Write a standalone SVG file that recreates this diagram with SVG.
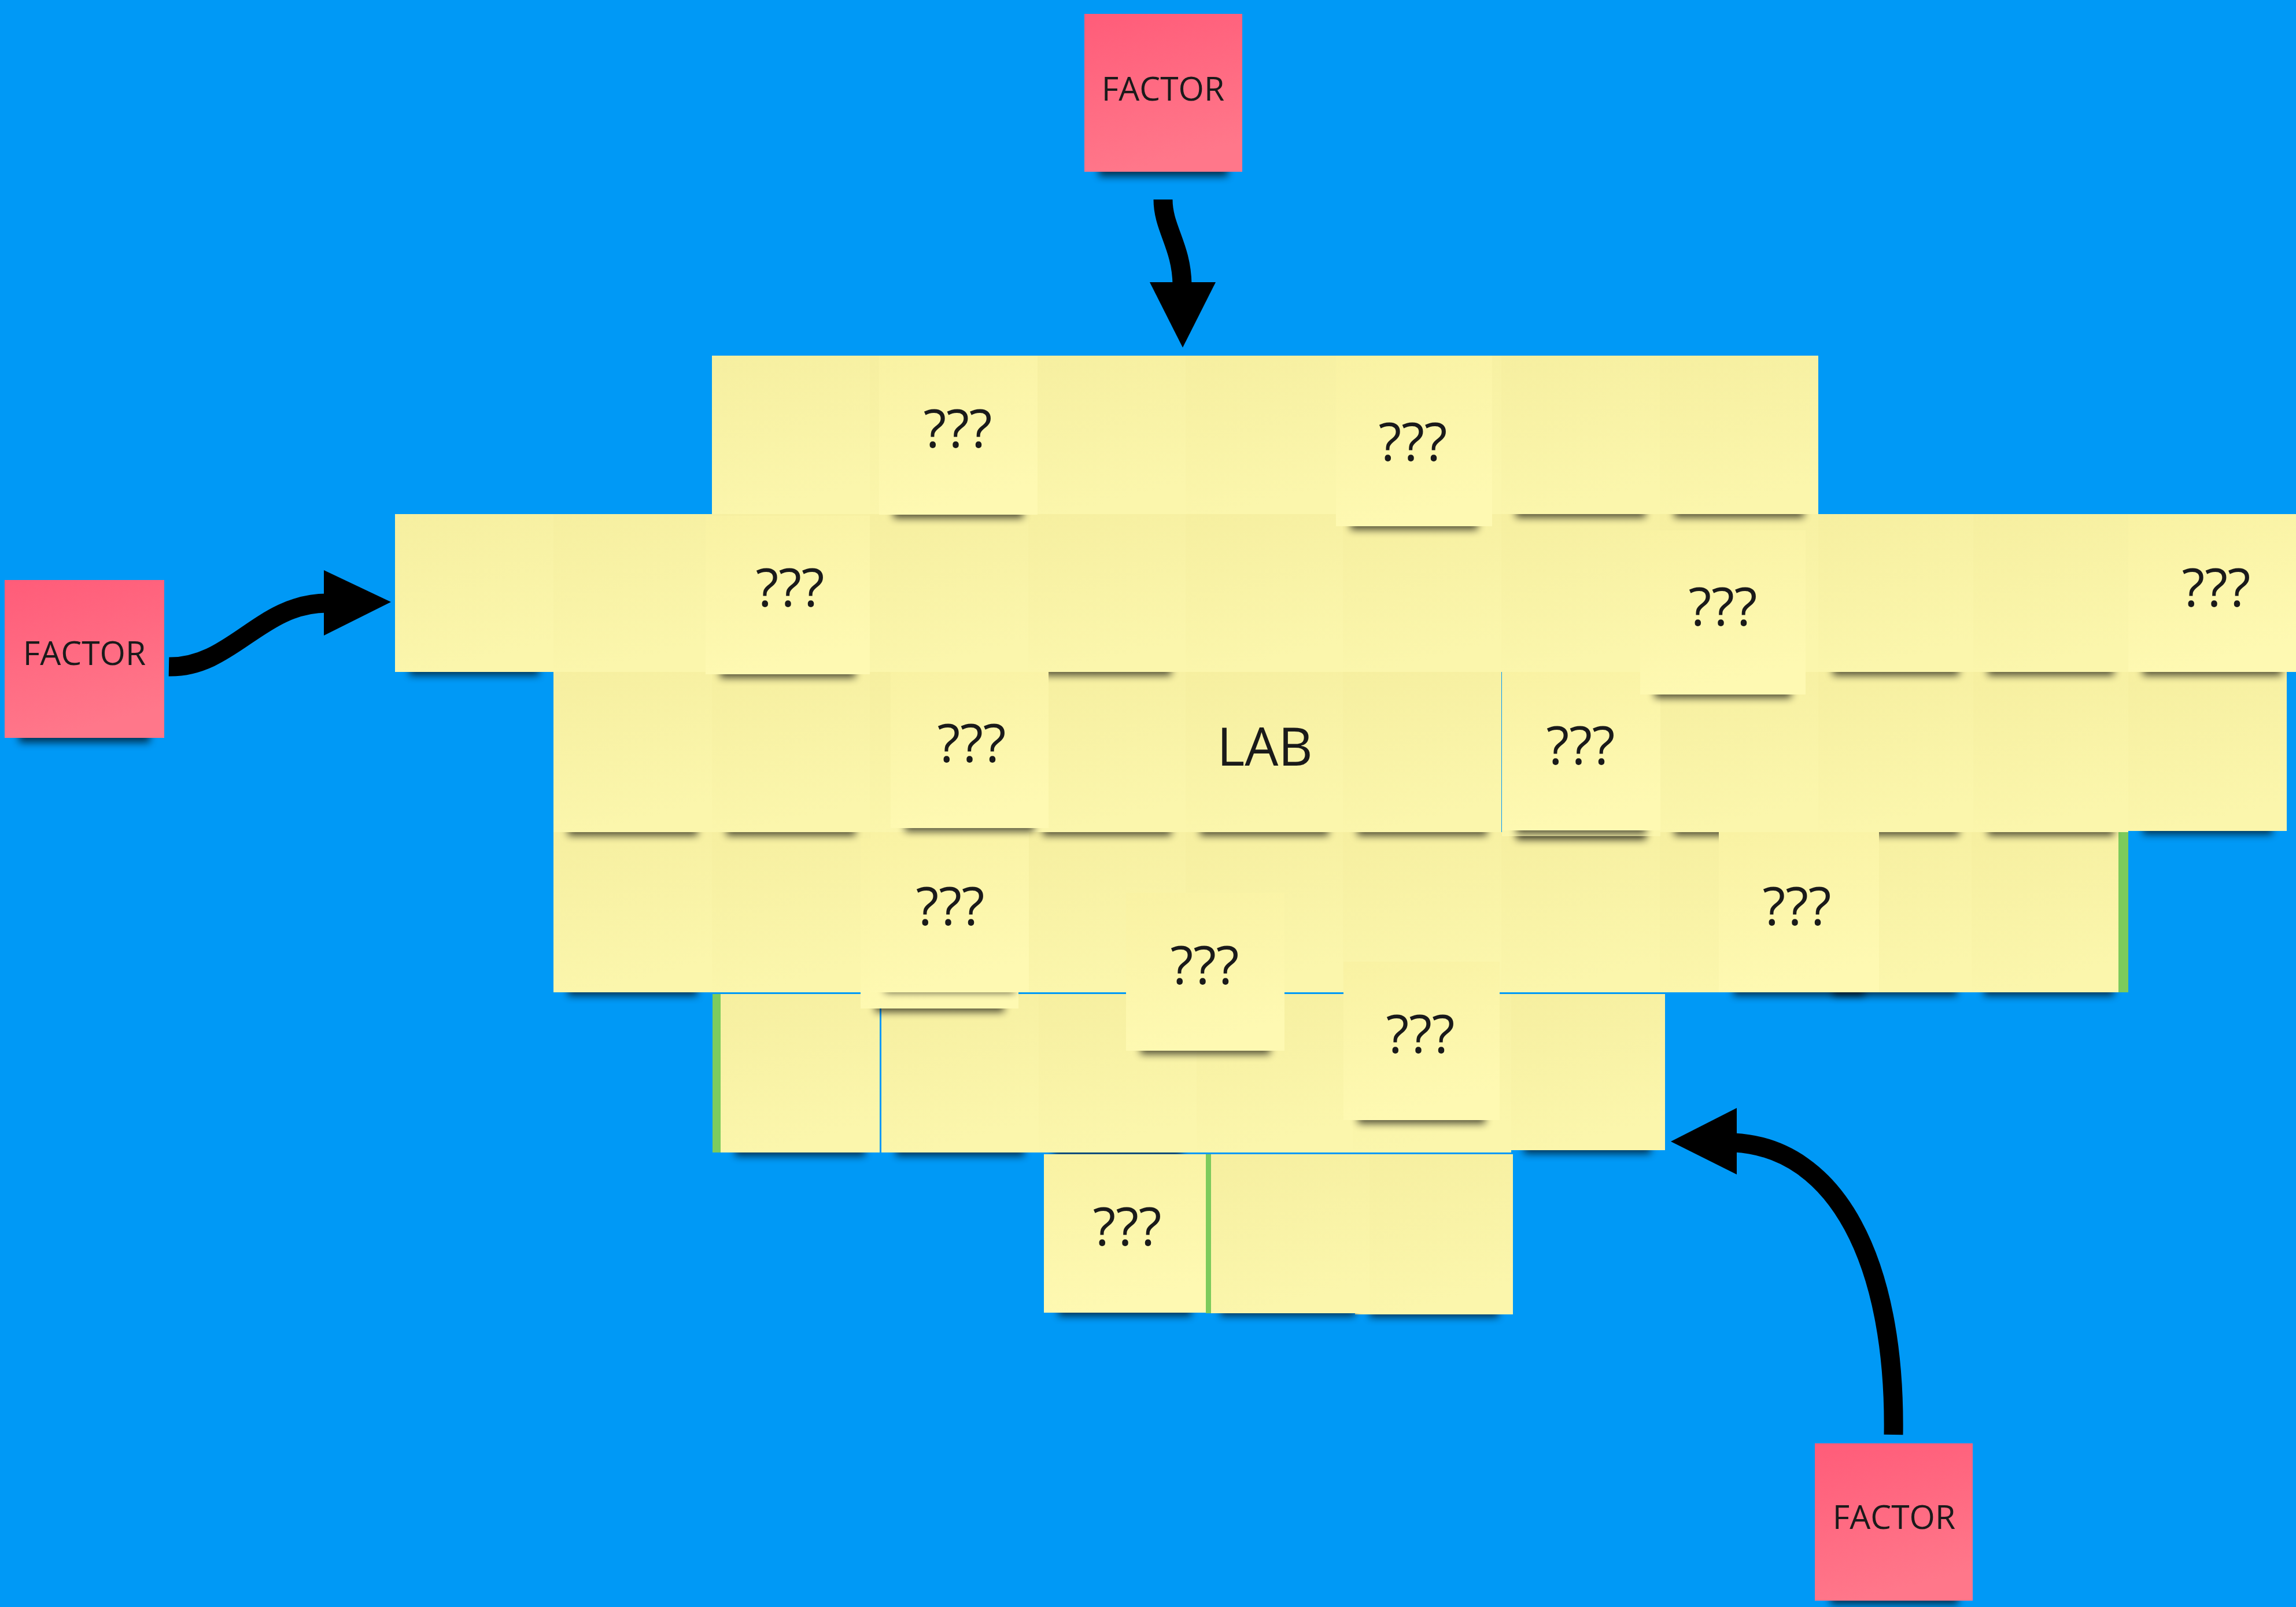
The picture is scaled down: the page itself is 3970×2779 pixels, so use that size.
<svg xmlns="http://www.w3.org/2000/svg" width="3970" height="2779" viewBox="0 0 3970 2779">
<defs>
<linearGradient id="gy" x1="0" y1="0" x2="0.25" y2="1"><stop offset="0" stop-color="#F6EFA0"/><stop offset="1" stop-color="#FBF6AC"/></linearGradient>
<linearGradient id="gq" x1="0" y1="0" x2="0.25" y2="1"><stop offset="0" stop-color="#F9F2A3"/><stop offset="1" stop-color="#FEF9B2"/></linearGradient>
<linearGradient id="gp" x1="0" y1="0" x2="0.25" y2="1"><stop offset="0" stop-color="#FF5C79"/><stop offset="1" stop-color="#FF778A"/></linearGradient>
<filter id="blur" x="-20%" y="-300%" width="140%" height="700%"><feGaussianBlur stdDeviation="7"/></filter>
</defs>
<style>
.y{fill:url(#gy)}
.q{fill:url(#gq)}
.p{fill:url(#gp)}
.g{fill:#7CCB5C}
.sh{fill:#000;opacity:.68;filter:url(#blur)}
.t{font-family:"Open Sans","Liberation Sans",sans-serif;fill:#1a1a1a;text-anchor:middle}
.qt{font-size:92px}
.ft{font-size:57px}
.arr{fill:none;stroke:#000;stroke-width:33}
</style>
<rect width="3970" height="2779" fill="#0099F6"/>

<!-- row 5 -->
<g id="n5c"><rect class="sh" x="2368" y="2258" width="223" height="20"/><rect class="y" x="2343" y="1996" width="273" height="277"/></g>
<g id="n5b"><rect class="sh" x="2110" y="2256" width="233" height="20"/><rect class="g" x="2085" y="1996" width="275" height="275"/><rect class="y" x="2094" y="1996" width="274" height="275"/></g>

<!-- row 4 -->
<g id="n4f"><rect class="sh" x="2635" y="1975" width="219" height="20"/><rect class="y" x="2610" y="1719" width="269" height="270"/></g>
<g id="n4e"><rect class="y" x="2323" y="1719" width="290" height="274"/></g>
<g id="n4d"><rect class="y" x="2066" y="1719" width="273" height="274"/></g>
<g id="n4c"><rect class="sh" x="1821" y="1979" width="223" height="20"/><rect class="y" x="1796" y="1719" width="273" height="274"/></g>
<g id="n4b"><rect class="sh" x="1549" y="1979" width="222" height="20"/><rect class="y" x="1524" y="1719" width="272" height="274"/></g>
<g id="n4a"><rect class="sh" x="1271" y="1979" width="225" height="20"/><rect class="g" x="1232" y="1719" width="276" height="274"/><rect class="y" x="1246" y="1719" width="275" height="274"/></g>

<!-- row 3 -->
<g id="n3k"><rect class="sh" x="3430" y="1702" width="225" height="20"/><rect class="g" x="3408" y="1439" width="272" height="277"/><rect class="y" x="3403" y="1439" width="260" height="277"/></g>
<g id="n3j"><rect class="sh" x="3169" y="1702" width="215" height="20"/><rect class="y" x="3144" y="1439" width="265" height="277"/></g>
<g id="n3i"><rect class="y" x="2870" y="1439" width="274" height="277"/></g>
<g id="n3h"><rect class="y" x="2596" y="1439" width="274" height="277"/></g>
<g id="n3g"><rect class="y" x="2322" y="1439" width="274" height="277"/></g>
<g id="n3f"><rect class="y" x="2050" y="1439" width="272" height="277"/></g>
<g id="n3e"><rect class="y" x="1778" y="1439" width="272" height="277"/></g>
<g id="n3d"><rect class="y" x="1504" y="1439" width="274" height="277"/></g>
<g id="n3c"><rect class="y" x="1231" y="1439" width="273" height="277"/></g>
<g id="n3b"><rect class="sh" x="982" y="1702" width="224" height="20"/><rect class="y" x="957" y="1439" width="274" height="277"/></g>

<!-- row 2 -->
<g id="n2k"><rect class="sh" x="3705" y="1423" width="224" height="20"/><rect class="y" x="3680" y="1162" width="274" height="275"/></g>
<g id="n2j"><rect class="sh" x="3437" y="1425" width="218" height="20"/><rect class="y" x="3412" y="1162" width="268" height="277"/></g>
<g id="n2i"><rect class="sh" x="3169" y="1425" width="218" height="20"/><rect class="y" x="3144" y="1162" width="268" height="277"/></g>
<g id="n2h"><rect class="sh" x="2895" y="1425" width="224" height="20"/><rect class="y" x="2870" y="1162" width="274" height="277"/></g>
<g id="n2g"><rect class="sh" x="2622" y="1432" width="224" height="20"/><rect class="y" x="2597" y="1170" width="274" height="276"/></g>
<g id="n2f"><rect class="sh" x="2347" y="1425" width="224" height="20"/><rect class="y" x="2322" y="1162" width="274" height="277"/></g>
<g id="lab"><rect class="sh" x="2075" y="1425" width="222" height="20"/><rect class="y" x="2050" y="1162" width="272" height="277"/><text class="t" x="2187" y="1324" font-size="92">LAB</text></g>
<g id="n2d"><rect class="sh" x="1803" y="1425" width="222" height="20"/><rect class="y" x="1778" y="1162" width="272" height="277"/></g>
<g id="n2c"><rect class="y" x="1504" y="1162" width="274" height="277"/></g>
<g id="n2b"><rect class="sh" x="1256" y="1425" width="223" height="20"/><rect class="y" x="1231" y="1162" width="273" height="277"/></g>
<g id="n2a"><rect class="sh" x="982" y="1425" width="224" height="20"/><rect class="y" x="957" y="1162" width="274" height="277"/></g>

<!-- row 1 -->
<g id="n1l"><rect class="y" x="3680" y="889" width="290" height="273"/></g>
<g id="n1k"><rect class="sh" x="3437" y="1148" width="218" height="20"/><rect class="y" x="3412" y="889" width="268" height="273"/></g>
<g id="n1j"><rect class="sh" x="3169" y="1148" width="218" height="20"/><rect class="y" x="3144" y="889" width="268" height="273"/></g>
<g id="n1i"><rect class="y" x="2870" y="889" width="274" height="273"/></g>
<g id="n1h"><rect class="sh" x="2621" y="1148" width="224" height="20"/><rect class="y" x="2596" y="889" width="274" height="273"/></g>
<g id="n1g"><rect class="y" x="2322" y="889" width="274" height="273"/></g>
<g id="n1f"><rect class="y" x="2050" y="889" width="272" height="273"/></g>
<g id="n1e"><rect class="sh" x="1803" y="1148" width="222" height="20"/><rect class="y" x="1778" y="889" width="272" height="273"/></g>
<g id="n1d"><rect class="y" x="1504" y="889" width="274" height="273"/></g>
<g id="n1c"><rect class="y" x="1231" y="889" width="273" height="273"/></g>
<g id="n1b"><rect class="y" x="957" y="889" width="274" height="273"/></g>
<g id="n1a"><rect class="sh" x="708" y="1148" width="224" height="20"/><rect class="y" x="683" y="889" width="274" height="273"/></g>

<!-- row 0 -->
<g id="n0g"><rect class="sh" x="2895" y="875" width="224" height="20"/><rect class="y" x="2870" y="615" width="274" height="274"/></g>
<g id="n0f"><rect class="sh" x="2621" y="875" width="224" height="20"/><rect class="y" x="2596" y="615" width="274" height="274"/></g>
<g id="n0e"><rect class="y" x="2322" y="615" width="274" height="274"/></g>
<g id="n0d"><rect class="y" x="2050" y="615" width="272" height="274"/></g>
<g id="n0c"><rect class="y" x="1778" y="615" width="272" height="274"/></g>
<g id="n0b"><rect class="y" x="1504" y="615" width="274" height="274"/></g>
<g id="n0a"><rect class="y" x="1231" y="615" width="273" height="274"/></g>

<!-- ??? notes -->
<g id="qL"><rect class="sh" x="1830" y="2256" width="230" height="20"/><rect class="q" x="1805" y="1996" width="280" height="274"/><text class="t qt" x="1949" y="2154">???</text></g>
<g id="qK"><rect class="sh" x="2348" y="1923" width="220" height="20"/><rect class="q" x="2323" y="1663" width="270" height="274"/><text class="t qt" x="2456" y="1821">???</text></g>
<g id="qJ"><rect class="sh" x="1972" y="1803" width="224" height="20"/><rect class="q" x="1947" y="1544" width="274" height="273"/><text class="t qt" x="2083" y="1702">???</text></g>
<g id="qI"><rect class="sh" x="2997" y="1702" width="227" height="20"/><rect class="q" x="2972" y="1439" width="277" height="277"/><text class="t qt" x="3107" y="1600">???</text></g>
<g id="qH"><rect class="sh" x="1513" y="1730" width="223" height="20"/><rect class="q" x="1488" y="1450" width="273" height="294"/><rect class="sh" x="1530" y="1702" width="224" height="14"/><rect class="q" x="1505" y="1439" width="274" height="277"/><text class="t qt" x="1643" y="1600">???</text></g>
<g id="qG"><rect class="sh" x="2622" y="1422" width="224" height="20"/><rect class="q" x="2597" y="1162" width="274" height="274"/><text class="t qt" x="2733" y="1322">???</text></g>
<g id="qF"><rect class="sh" x="1565" y="1418" width="223" height="20"/><rect class="q" x="1540" y="1162" width="273" height="270"/><text class="t qt" x="1680" y="1318">???</text></g>
<g id="qE"><rect class="sh" x="3705" y="1148" width="240" height="20"/><rect class="q" x="3680" y="889" width="290" height="273"/><text class="t qt" x="3832" y="1049">???</text></g>
<g id="qD"><rect class="sh" x="2861" y="1187" width="236" height="20"/><rect class="q" x="2836" y="917" width="286" height="284"/><text class="t qt" x="2979" y="1082">???</text></g>
<g id="qC"><rect class="sh" x="1245" y="1152" width="234" height="20"/><rect class="q" x="1220" y="892" width="284" height="274"/><text class="t qt" x="1366" y="1049">???</text></g>
<g id="qB"><rect class="sh" x="2335" y="896" width="220" height="20"/><rect class="q" x="2310" y="615" width="270" height="295"/><text class="t qt" x="2443" y="797">???</text></g>
<g id="qA"><rect class="sh" x="1545" y="876" width="224" height="20"/><rect class="q" x="1520" y="615" width="274" height="275"/><text class="t qt" x="1656" y="774">???</text></g>

<!-- factors -->
<g id="fTop"><rect class="sh" x="1900" y="283" width="223" height="22"/><rect class="p" x="1875" y="24" width="273" height="273"/><text class="t ft" x="2011" y="174">FACTOR</text></g>
<g id="fLeft"><rect class="sh" x="33" y="1262" width="226" height="22"/><rect class="p" x="8" y="1003" width="276" height="273"/><text class="t ft" x="146" y="1150">FACTOR</text></g>
<g id="fBottom"><rect class="sh" x="3165" y="2753" width="221" height="22"/><rect class="p" x="3138" y="2496" width="273" height="272"/><text class="t ft" x="3275" y="2644">FACTOR</text></g>

<g id="connectors">
<path class="arr" d="M2011,345 C2011,395 2043,425 2044,492"/>
<polygon points="1988,488 2102,488 2045,601" fill="#000"/>
<path class="arr" d="M292,1153 C400,1155 450,1043 565,1043"/>
<polygon points="560,986 560,1099 676,1041" fill="#000"/>
<path class="arr" d="M3274,2481 C3278,2180 3175,1985 2998,1976"/>
<polygon points="3003,1916 3003,2031 2889,1974" fill="#000"/>
</g>
</svg>
